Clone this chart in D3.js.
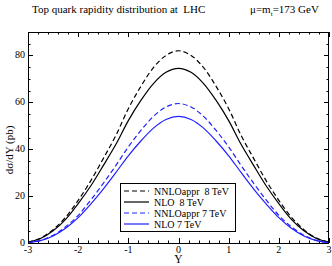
<!DOCTYPE html>
<html>
<head>
<meta charset="utf-8">
<script src="https://cdn.jsdelivr.net/npm/d3@7"></script>
<style>
  body { margin: 0; background: #fff; }
  text { font-family: "Liberation Serif", "DejaVu Serif", serif; }
</style>
</head>
<body>
<script>
(()=>{
    const width = 332;
    const height = 266;
    const marginTop = 32;
    const marginRight = 3;
    const marginBottom = 23;
    const marginLeft = 28;

    // rapidity grid (half curve, mirrored below)
    const rapidity = [0, 0.25, 0.5, 0.75, 1.0, 1.25, 1.5, 1.75, 2.0, 2.25, 2.5, 2.75, 3.0];
    const nnlo8 = [82.0, 80.0, 74.8, 66.8, 57.3, 45.8, 36.0, 26.5, 18.2, 11.0, 5.7, 2.1, 0.3];
    const nlo8  = [74.5, 72.8, 68.0, 60.8, 52.2, 42.0, 33.0, 24.3, 16.8, 10.1, 5.2, 1.9, 0.3];
    const nnlo7 = [59.5, 58.0, 54.0, 48.0, 41.0, 33.0, 25.4, 18.3, 11.8, 6.9, 3.3, 1.1, 0.1];
    const nlo7  = [54.0, 52.7, 49.0, 43.5, 37.2, 30.0, 23.0, 16.6, 10.8, 6.3, 3.0, 1.0, 0.1];

    const seriesNames = ["NNLOappr  8 TeV", "NLO  8 TeV", "NNLOappr 7 TeV", "NLO 7 TeV"];
    const seriesValues = [nnlo8, nlo8, nnlo7, nlo7];
    const seriesColors = ["#000000", "#000000", "#2020ff", "#2020ff"];
    const seriesDash = ["5,3", null, "5,3", null];

    const xTicks = [-3, -2, -1, 0, 1, 2, 3];
    const yTicks = [0, 20, 40, 60, 80];

    const full = vals => {
        const pts = [];
        for (let i = rapidity.length - 1; i > 0; i--) pts.push([-rapidity[i], vals[i]]);
        rapidity.forEach((r, i) => pts.push([r, vals[i]]));
        return pts;
    };

    const x = d3.scaleLinear()
        .domain([-3, 3])
        .range([marginLeft, width - marginRight]);

    const y = d3.scaleLinear()
        .domain([0, 90])
        .range([height - marginBottom, marginTop]);

    const svg = d3.create("svg")
        .attr("width", width)
        .attr("height", height)
        .attr("viewBox", [0, 0, width, height]);

    const x0 = marginLeft, x1 = width - marginRight;
    const y0 = height - marginBottom, y1 = marginTop;

    // ticks on all four sides, pointing in
    const xMinor = d3.range(-3, 3.001, 0.2);
    const yMinor = d3.range(0, 90.001, 5);
    const tickG = svg.append("g").attr("stroke", "#000").attr("stroke-width", 1);

    xMinor.forEach(v => {
        const major = Math.abs(v - Math.round(v)) < 1e-6;
        const len = major ? 5 : 2.5;
        const px = Math.round(x(v)) + 0.5;
        tickG.append("line").attr("x1", px).attr("x2", px).attr("y1", y0).attr("y2", y0 - len);
        tickG.append("line").attr("x1", px).attr("x2", px).attr("y1", y1).attr("y2", y1 + len);
    });
    yMinor.forEach(v => {
        const major = v % 20 === 0;
        const len = major ? 5 : 2.5;
        const py = Math.round(y(v)) + 0.5;
        tickG.append("line").attr("x1", x0).attr("x2", x0 + len).attr("y1", py).attr("y2", py);
        tickG.append("line").attr("x1", x1).attr("x2", x1 - len).attr("y1", py).attr("y2", py);
    });

    // curves
    const line = d3.line()
        .x(d => x(d[0]))
        .y(d => y(d[1]))
        .curve(d3.curveCatmullRom);

    seriesValues.forEach((vals, i) => {
        svg.append("path")
            .datum(full(vals))
            .attr("fill", "none")
            .attr("stroke", seriesColors[i])
            .attr("stroke-width", 1.2)
            .attr("stroke-dasharray", seriesDash[i])
            .attr("d", line);
    });

    // frame
    svg.append("rect")
        .attr("x", x0 + 0.5)
        .attr("y", y1 + 0.5)
        .attr("width", x1 - x0 - 1)
        .attr("height", y0 - y1)
        .attr("fill", "none")
        .attr("stroke", "#000")
        .attr("stroke-width", 1);

    // tick labels
    svg.append("g")
        .selectAll("text")
        .data(xTicks)
        .join("text")
        .attr("x", d => x(d))
        .attr("y", y0 + 9.5)
        .attr("text-anchor", "middle")
        .attr("font-size", 10)
        .text(d => d);

    svg.append("g")
        .selectAll("text")
        .data(yTicks)
        .join("text")
        .attr("x", x0 - 3)
        .attr("y", d => y(d) + 3)
        .attr("text-anchor", "end")
        .attr("font-size", 10)
        .text(d => d);

    // axis labels
    svg.append("text")
        .attr("x", x(0))
        .attr("y", 263)
        .attr("text-anchor", "middle")
        .attr("font-size", 11.5)
        .text("Y");

    svg.append("text")
        .attr("transform", `translate(13,150) rotate(-90)`)
        .attr("text-anchor", "middle")
        .attr("font-size", 11)
        .text("dσ/dY (pb)");

    // title
    const title = svg.append("text")
        .attr("x", 32)
        .attr("y", 13)
        .attr("font-size", 11)
        .attr("xml:space", "preserve");
    title.append("tspan").text("Top quark rapidity distribution at  LHC");
    title.append("tspan").attr("x", 250).text("μ=m");
    title.append("tspan").attr("dy", 3).attr("font-size", 7).text("t");
    title.append("tspan").attr("dy", -3).text("=173 GeV");

    // legend
    const lg = svg.append("g");
    lg.append("rect")
        .attr("x", 120.5)
        .attr("y", 183.5)
        .attr("width", 115)
        .attr("height", 48)
        .attr("fill", "#fff")
        .attr("stroke", "#000");

    seriesNames.forEach((name, i) => {
        const ly = 191 + i * 11;
        lg.append("line")
            .attr("x1", 124).attr("x2", 149)
            .attr("y1", ly).attr("y2", ly)
            .attr("stroke", seriesColors[i])
            .attr("stroke-width", 1.2)
            .attr("stroke-dasharray", seriesDash[i]);
        lg.append("text")
            .attr("x", 154)
            .attr("y", ly + 3.5)
            .attr("font-size", 10)
            .attr("xml:space", "preserve")
            .text(name);
    });

    d3.select("body").append(() => svg.node());
})()
</script>
</body>
</html>
